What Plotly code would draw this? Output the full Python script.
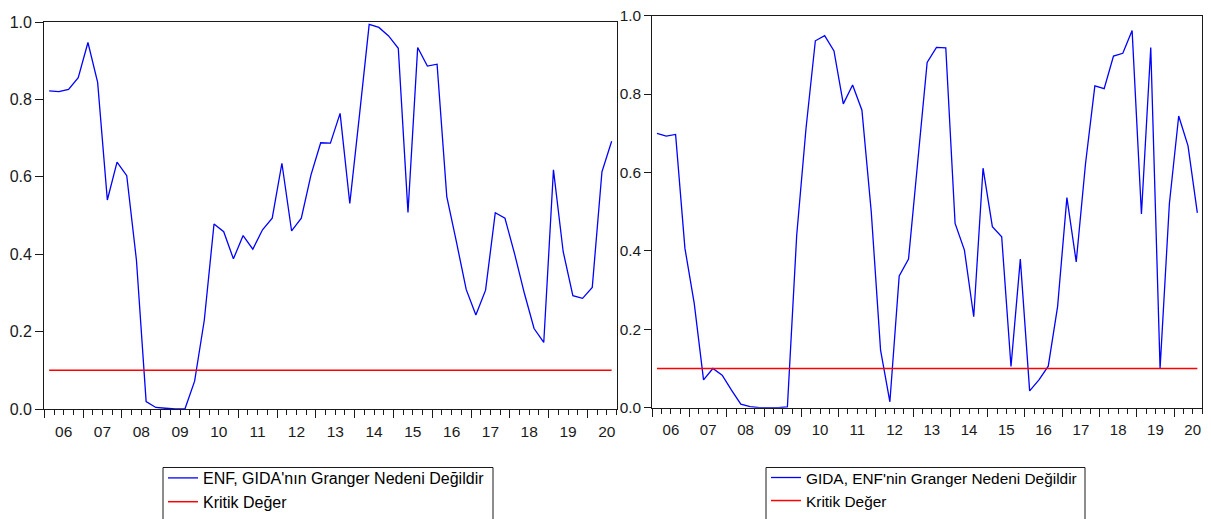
import plotly.graph_objects as go

# Quarterly periods 2006Q1 .. 2020Q3
years = list(range(2006, 2021))
periods = [(y, q) for y in years for q in range(1, 5)][:59]
year_labels = ["06", "07", "08", "09", "10", "11", "12", "13", "14", "15", "16", "17", "18", "19", "20"]

enf_gida = [0.822, 0.820, 0.826, 0.856, 0.947, 0.844, 0.540, 0.638, 0.603, 0.385,
            0.019, 0.004, 0.002, 0.000, 0.000, 0.072, 0.230, 0.478, 0.458, 0.388,
            0.448, 0.413, 0.463, 0.493, 0.635, 0.460, 0.493, 0.605, 0.688, 0.687,
            0.764, 0.531, 0.760, 0.994, 0.986, 0.964, 0.932, 0.508, 0.934, 0.886,
            0.891, 0.549, 0.431, 0.309, 0.243, 0.307, 0.507, 0.493, 0.400, 0.299,
            0.208, 0.172, 0.618, 0.407, 0.293, 0.286, 0.314, 0.613, 0.692]

gida_enf = [0.700, 0.693, 0.697, 0.407, 0.266, 0.071, 0.100, 0.083, 0.045, 0.009,
            0.003, 0.000, 0.000, 0.000, 0.002, 0.440, 0.713, 0.936, 0.949, 0.910,
            0.775, 0.823, 0.759, 0.500, 0.147, 0.015, 0.336, 0.379, 0.630, 0.881,
            0.919, 0.918, 0.470, 0.402, 0.232, 0.611, 0.462, 0.436, 0.105, 0.379,
            0.043, 0.071, 0.106, 0.258, 0.536, 0.372, 0.623, 0.821, 0.814, 0.897,
            0.904, 0.962, 0.494, 0.919, 0.100, 0.521, 0.744, 0.668, 0.497]

kritik = [0.1] * len(periods)

name_left = "ENF, GIDA'nın Granger Nedeni Değildir"
name_right = "GIDA, ENF'nin Granger Nedeni Değildir"
name_crit = "Kritik Değer"

# position of each quarter (centre of the quarter, in quarter units from 2006Q1)
xq = [(y - 2006) * 4 + (q - 1) + 0.5 for (y, q) in periods]
n_q = len(periods)
year_bounds = [(y - 2006) * 4 for y in years]
year_centers = [b + 2 for b in year_bounds]
quarter_ticks = list(range(0, n_q + 1))

FONT = "Liberation Sans, Arial, sans-serif"
BLUE = "#0000FF"
RED = "#FF0000"
AX = "#1a1a1a"

# the page adds an 8px body margin; size the figure so it ends at the window edge
OFF = 8
W, H = 1211 - OFF, 519 - OFF


def fx(px):
    return (px - OFF) / W


def fy(px):
    return 1 - (px - OFF) / H


fig = go.Figure()
fig.add_trace(go.Scatter(x=xq, y=enf_gida, mode="lines", name=name_left,
                         line=dict(color=BLUE, width=1.3), xaxis="x", yaxis="y", legend="legend"))
fig.add_trace(go.Scatter(x=xq, y=kritik, mode="lines", name=name_crit,
                         line=dict(color=RED, width=1.5), xaxis="x3", yaxis="y", legend="legend"))
fig.add_trace(go.Scatter(x=xq, y=gida_enf, mode="lines", name=name_right,
                         line=dict(color=BLUE, width=1.3), xaxis="x2", yaxis="y2", legend="legend2"))
fig.add_trace(go.Scatter(x=xq, y=kritik, mode="lines", name=name_crit,
                         line=dict(color=RED, width=1.5), xaxis="x4", yaxis="y2", legend="legend2"))

left_dom_x = [fx(44.3), fx(616.5)]
left_dom_y = [fy(409), fy(22)]
right_dom_x = [fx(652.3), fx(1202)]
right_dom_y = [fy(407.7), fy(15.7)]


def main_x(domain, anchor):
    return dict(domain=domain, anchor=anchor, range=[0, n_q], showgrid=False, zeroline=False,
                showline=True, mirror=True, linecolor=AX, linewidth=1.3,
                tickmode="array", tickvals=year_bounds, showticklabels=False,
                ticks="outside", ticklen=8, tickwidth=1.3, tickcolor=AX,
                minor=dict(tickmode="array", tickvals=quarter_ticks, ticks="outside",
                           ticklen=5, tickwidth=1.3, tickcolor=AX))


def label_x(overlay, anchor, size):
    return dict(overlaying=overlay, anchor=anchor, side="bottom", range=[0, n_q],
                showgrid=False, zeroline=False, showline=False,
                tickmode="array", tickvals=year_centers, ticktext=year_labels,
                ticks="outside", ticklen=8, tickcolor="rgba(0,0,0,0)",
                tickfont=dict(family=FONT, size=size, color=AX))


def main_y(domain, anchor, size, tlen):
    return dict(domain=domain, anchor=anchor, range=[0, 1], showgrid=False, zeroline=False,
                showline=True, mirror=True, linecolor=AX, linewidth=1.3,
                tickmode="array", tickvals=[0, 0.2, 0.4, 0.6, 0.8, 1.0],
                ticktext=["0.0", "0.2", "0.4", "0.6", "0.8", "1.0"],
                ticks="outside", ticklen=tlen, tickwidth=1.3, tickcolor=AX,
                ticklabeloverflow="allow",
                tickfont=dict(family=FONT, size=size, color=AX))


def legend_style(x, y, size):
    return dict(x=x, y=y, bgcolor="rgba(0,0,0,0)", borderwidth=0,
                font=dict(family=FONT, size=size, color="black"),
                xanchor="left", yanchor="top", tracegroupgap=0)


box_style = dict(type="rect", xref="paper", yref="paper",
                 line=dict(color=AX, width=1), fillcolor="white", layer="below")

fig.update_layout(
    width=W, height=H, margin=dict(l=0, r=0, t=0, b=0, autoexpand=False),
    paper_bgcolor="white", plot_bgcolor="rgba(0,0,0,0)",
    showlegend=True,
    xaxis=main_x(left_dom_x, "y"),
    xaxis2=main_x(right_dom_x, "y2"),
    xaxis3=label_x("x", "y", 15.5),
    xaxis4=label_x("x2", "y2", 15),
    yaxis=main_y(left_dom_y, "x", 16, 8),
    yaxis2=main_y(right_dom_y, "x2", 15.4, 7),
    legend=legend_style(fx(163), fy(461), 16),
    legend2=legend_style(fx(766), fy(461), 15.4),
    shapes=[
        dict(x0=fx(163), x1=fx(493), y0=fy(535), y1=fy(467.5), **box_style),
        dict(x0=fx(766), x1=fx(1085), y0=fy(535), y1=fy(467.5), **box_style),
    ],
)

fig.write_html("out.html")
